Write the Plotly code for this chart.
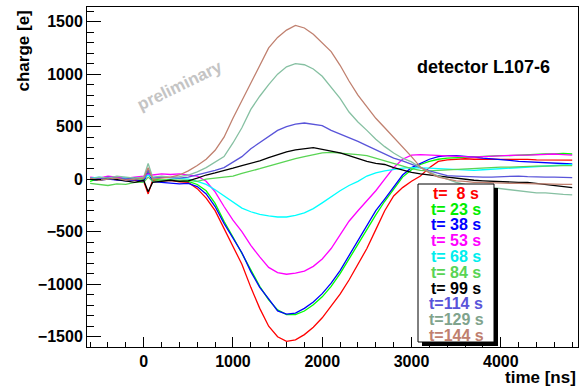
import plotly.graph_objects as go

# time axis (ns)
time_ns = [-600, -500, -400, -300, -200, -100, 0, 50, 100, 200, 300, 400, 500, 600, 700, 800, 900,
           1000, 1100, 1200, 1300, 1400, 1500, 1600, 1700, 1800, 1900, 2000, 2100, 2200, 2300, 2400,
           2500, 2600, 2700, 2800, 2900, 3000, 3100, 3200, 3300, 3400, 3500, 3600, 3700, 3800, 3900,
           4000, 4100, 4200, 4300, 4400, 4500, 4600, 4700, 4800]

labels = ["t=  8 s", "t= 23 s", "t= 38 s", "t= 53 s", "t= 68 s",
          "t= 84 s", "t= 99 s", "t=114 s", "t=129 s", "t=144 s"]

q_8 = [10, 0, 5, -5, 0, -10, -20, -140, -10, -15, -10, -25, -30, -90, -180, -300, -470,
       -640, -810, -1030, -1230, -1400, -1500, -1545, -1530, -1480, -1410, -1320, -1210, -1095, -960, -810,
       -660, -480, -300, -160, -80, -20, 30, 110, 170, 185, 190, 195, 190, 192, 190,
       188, 190, 185, 188, 185, 186, 184, 185, 182]
q_23 = [-20, 10, 20, 0, 10, 5, 0, 80, 0, -10, -5, -15, -20, -50, -110, -230, -400,
        -550, -710, -870, -1020, -1150, -1245, -1290, -1290, -1255, -1195, -1120, -1020, -900, -760, -610,
        -470, -340, -210, -90, 20, 90, 140, 170, 190, 200, 205, 210, 215, 220, 220,
        225, 225, 230, 235, 235, 240, 240, 245, 240]
q_38 = [0, -10, 0, -10, -15, -5, -20, 60, -20, -30, -40, -45, -40, -70, -140, -260, -420,
        -560, -700, -880, -1030, -1140, -1255, -1285, -1275, -1230, -1170, -1090, -990, -870, -730, -590,
        -440, -300, -190, -70, 40, 110, 150, 190, 215, 225, 225, 220, 210, 200, 195,
        185, 180, 170, 165, 160, 155, 150, 150, 145]
q_53 = [20, 10, 30, 20, 10, 20, 30, 50, 40, 50, 45, 50, 40, 30, -20, -120, -260,
        -390, -500, -630, -740, -840, -890, -905, -895, -875, -830, -760, -660, -530, -400, -300,
        -210, -110, 0, 110, 190, 230, 235, 230, 225, 220, 215, 210, 210, 215, 220,
        220, 225, 230, 230, 235, 235, 240, 235, 230]
q_68 = [10, 20, 10, 0, 15, 10, 10, 40, 15, 20, 15, 10, 0, -20, -50, -100, -160,
        -220, -275, -310, -335, -350, -360, -360, -345, -320, -280, -225, -165, -110, -60, -20,
        30, 60, 80, 95, 105, 110, 110, 105, 100, 95, 90, 85, 85, 90, 95,
        100, 105, 110, 115, 120, 125, 130, 135, 140]
q_84 = [-40, -50, -60, -45, -50, -30, -30, 20, -20, -10, -10, -5, -10, -20, 0, 10, 20,
        30, 55, 75, 100, 125, 150, 175, 195, 215, 235, 250, 255, 250, 245, 235,
        225, 200, 175, 150, 125, 100, 85, 80, 85, 90, 95, 100, 105, 110, 110,
        115, 115, 120, 120, 125, 125, 130, 130, 130]
q_99 = [0, -10, 10, -5, -20, -30, -10, -120, -30, -20, -10, -20, -15, 10, 40, 60, 80,
        105, 130, 150, 175, 205, 235, 260, 280, 290, 300, 285, 270, 250, 225, 195,
        170, 150, 140, 110, 85, 65, 50, 40, 30, 15, 5, 0, -10, -15, -20,
        -20, -25, -30, -30, -40, -50, -60, -70, -80]
q_114 = [10, 0, 20, 10, 0, 15, 5, 90, 10, 20, 15, 10, 20, 40, 60, 85, 110,
         165, 215, 290, 350, 410, 465, 500, 525, 535, 525, 510, 465, 430, 400, 360,
         320, 280, 240, 200, 175, 140, 110, 80, 55, 35, 30, 25, 25, 20, 20,
         25, 30, 30, 25, 20, 20, 20, 15, 15]
q_129 = [0, 20, 10, 30, 20, 10, 20, 150, 20, 30, 20, 25, 40, 70, 110, 160, 215,
         345, 490, 665, 790, 900, 1000, 1070, 1100, 1090, 1050, 980, 880, 770, 640, 545,
         465, 380, 310, 250, 200, 165, 110, 70, 30, 0, -30, -50, -60, -70, -80,
         -90, -100, -110, -120, -130, -130, -140, -145, -150]
q_144 = [10, -10, 0, 10, -10, 0, 10, 110, 0, 10, 20, 40, 80, 130, 190, 275, 400,
         580, 750, 920, 1090, 1250, 1350, 1420, 1465, 1440, 1380, 1300, 1215, 1085, 935, 800,
         690, 580, 490, 400, 310, 215, 115, 60, 20, 0, -15, -20, -30, -30, -35,
         -40, -40, -40, -45, -45, -45, -50, -50, -50]

series = [q_8, q_23, q_38, q_53, q_68, q_84, q_99, q_114, q_129, q_144]
line_colors = ["#ff0000", "#00ff00", "#0000ff", "#ff00ff", "#00ffff",
               "#59d454", "#000000", "#5954d9", "#86c0a2", "#c0806f"]
text_colors = ["#ff0000", "#00ee00", "#0000ff", "#ff00ff", "#00eeee",
               "#59d454", "#000000", "#5954d9", "#80a38c", "#c0806f"]

FONT = "Liberation Sans, Arial, Helvetica, sans-serif"

fig = go.Figure()
for name, ys, c in zip(labels, series, line_colors):
    fig.add_trace(go.Scatter(x=time_ns, y=ys, mode="lines", name=name,
                             line=dict(color=c, width=1.3), showlegend=False))

# plot area in pixels
L, R, T, B = 87, 578, 7, 347
W, H = 579, 390
def px(x):
    return (x - L) / (R - L)
def py(y):
    return (B - y) / (B - T)

shapes = [
    # legend shadow
    dict(type="rect", xref="paper", yref="paper", x0=px(494), x1=px(498), y0=py(346), y1=py(188),
         fillcolor="black", line=dict(width=0), layer="above"),
    dict(type="rect", xref="paper", yref="paper", x0=px(422), x1=px(498), y0=py(346), y1=py(342),
         fillcolor="black", line=dict(width=0), layer="above"),
    # legend box
    dict(type="rect", xref="paper", yref="paper", x0=px(418), x1=px(494), y0=py(342), y1=py(184),
         fillcolor="white", line=dict(color="black", width=1), layer="above"),
]

annotations = []
y_first, step = 193.5, 15.75
for i, (lab, c) in enumerate(zip(labels, text_colors)):
    annotations.append(dict(xref="paper", yref="paper", x=px(456), y=py(y_first + i * step),
                            text=lab.replace(" ", "\u00a0"), showarrow=False,
                            xanchor="center", yanchor="middle",
                            font=dict(family=FONT, size=16, color=c, weight="bold")))

annotations += [
    dict(xref="paper", yref="paper", x=px(578), y=py(389), text="time [ns]", showarrow=False,
         xanchor="right", yanchor="bottom", font=dict(family=FONT, size=17, color="black", weight="bold")),
    dict(xref="paper", yref="paper", x=px(23), y=py(9), text="charge [e]", showarrow=False,
         textangle=-90, xanchor="center", yanchor="top",
         font=dict(family=FONT, size=17, color="black", weight="bold")),
    dict(xref="paper", yref="paper", x=px(483), y=py(67), text="detector L107-6", showarrow=False,
         xanchor="center", yanchor="middle", font=dict(family=FONT, size=18, color="black", weight="bold")),
    dict(xref="paper", yref="paper", x=px(180), y=py(86), text="preliminary", showarrow=False,
         textangle=-26, xanchor="center", yanchor="middle",
         font=dict(family=FONT, size=17, color="#c4c4c4", weight="bold")),
]

fig.update_layout(
    width=W, height=H,
    margin=dict(l=L, r=W - R, t=T, b=H - B),
    paper_bgcolor="white", plot_bgcolor="white",
    shapes=shapes, annotations=annotations,
    font=dict(family=FONT, color="black"),
)
fig.update_xaxes(range=[-635, 4865], tickmode="linear", tick0=0, dtick=1000,
                 ticks="inside", ticklen=10, tickcolor="black", tickwidth=1,
                 minor=dict(dtick=200, tick0=0, ticks="inside", ticklen=5, tickcolor="black"),
                 showgrid=False, zeroline=False, showline=True, linecolor="black", linewidth=1,
                 mirror=True,
                 tickfont=dict(family=FONT, size=16, color="black", weight="bold"))
fig.update_yaxes(range=[-1598, 1640], tickmode="linear", tick0=0, dtick=500,
                 ticks="inside", ticklen=14, tickcolor="black", tickwidth=1,
                 minor=dict(dtick=100, tick0=0, ticks="inside", ticklen=7, tickcolor="black"),
                 showgrid=False, zeroline=False, showline=True, linecolor="black", linewidth=1,
                 mirror=True,
                 tickfont=dict(family=FONT, size=16, color="black", weight="bold"))

fig.write_html("out.html", config={"displayModeBar": False},
               post_script="document.body.style.margin='0';document.body.style.overflow='hidden';")
